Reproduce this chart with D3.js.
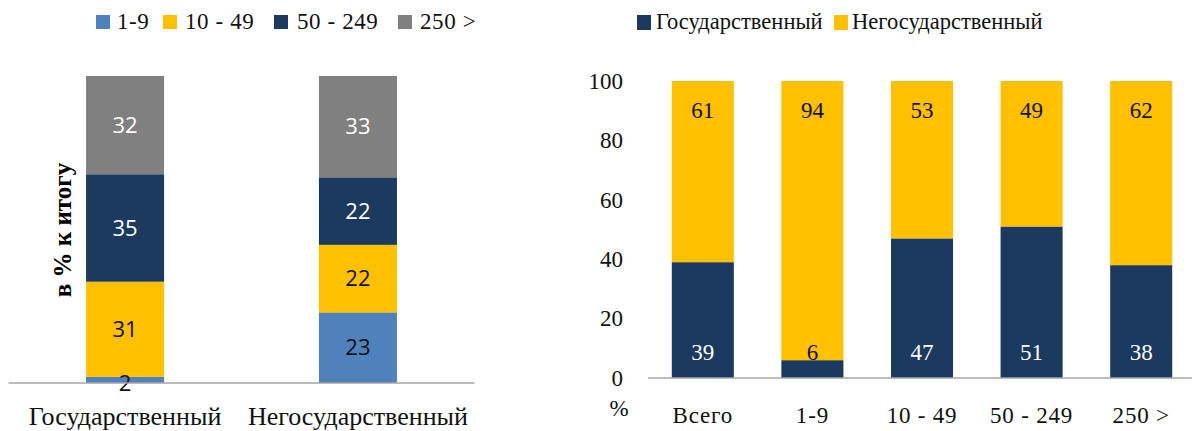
<!DOCTYPE html>
<html>
<head>
<meta charset="utf-8">
<title>Распределение по размеру</title>
<style>
  body { margin: 0; background: #fff; }
  svg { display: block; }
</style>
</head>
<body>
<svg id="chart" width="1192" height="431"></svg>
<script src="https://d3js.org/d3.v7.min.js"></script>
<script>
// левая диаграмма: структура по размеру предприятия
const ownership = ["Государственный", "Негосударственный"];
const sizeGroups = ["1-9", "10 - 49", "50 - 249", "250 >"];
const size_1_9 = [2, 23];
const size_10_49 = [31, 22];
const size_50_249 = [35, 22];
const size_250 = [32, 33];
const sizeColors = ["#4F81BD", "#FFC000", "#1C3A5F", "#808080"];
const sizeTextColors = ["#111", "#111", "#fff", "#fff"];

// правая диаграмма: доля форм собственности по группам
const groups = ["Всего", "1-9", "10 - 49", "50 - 249", "250 >"];
const stateShare = [39, 6, 47, 51, 38];
const privateShare = [61, 94, 53, 49, 62];
const yTicks = [0, 20, 40, 60, 80, 100];
const ownColors = ["#1C3A5F", "#FFC000"];

const SERIF = '"Liberation Serif", "Times New Roman", serif';
const SANS = '"Open Sans", "Noto Sans", sans-serif';
const svg = d3.select("#chart");
const axisColor = "#A6A6A6";

// ---------- левая ----------
const leftRows = ownership.map((o, i) => ({
  key: o, "1-9": size_1_9[i], "10 - 49": size_10_49[i],
  "50 - 249": size_50_249[i], "250 >": size_250[i]
}));
const leftSeries = d3.stack().keys(sizeGroups)(leftRows);

const xL = d3.scaleBand().domain(ownership).range([8.5, 474.5])
  .paddingInner(0.665).paddingOuter(0.333);
const yL = d3.scaleLinear().domain([0, 100]).range([383, 76]);

const gL = svg.append("g");
gL.selectAll("g.layer").data(leftSeries).enter().append("g")
  .attr("fill", (d, i) => sizeColors[i])
  .selectAll("rect").data(d => d).enter().append("rect")
  .attr("x", d => xL(d.data.key))
  .attr("width", xL.bandwidth())
  .attr("y", d => yL(d[1]))
  .attr("height", d => yL(d[0]) - yL(d[1]));

leftSeries.forEach((s, i) => {
  gL.selectAll(null).data(s).enter().append("text")
    .attr("x", d => xL(d.data.key) + xL.bandwidth() / 2)
    .attr("y", d => (yL(d[0]) + yL(d[1])) / 2 + (d[1] - d[0] < 5 ? 3 : 0))
    .attr("dy", "0.35em")
    .attr("text-anchor", "middle")
    .style("font-family", SANS)
    .style("font-size", "22px")
    .attr("fill", sizeTextColors[i])
    .text(d => d[1] - d[0]);
});

gL.append("line")
  .attr("x1", 8.5).attr("x2", 474.5)
  .attr("y1", yL(0)).attr("y2", yL(0))
  .attr("stroke", axisColor).attr("stroke-width", 1.5);

gL.selectAll("text.cat").data(ownership).enter().append("text")
  .attr("class", "cat")
  .attr("x", d => xL(d) + xL.bandwidth() / 2)
  .attr("y", 425)
  .attr("text-anchor", "middle")
  .style("font-family", SERIF)
  .style("font-size", "26px")
  .attr("fill", "#111")
  .text(d => d);

gL.append("text")
  .attr("transform", "translate(71,230) rotate(-90)")
  .attr("text-anchor", "middle")
  .style("font-family", SERIF)
  .style("font-size", "25px")
  .style("font-weight", "bold")
  .attr("fill", "#000")
  .text("в % к итогу");

// легенда слева
const legL = [[96, 117], [163, 185], [274, 297], [398, 420]];
sizeGroups.forEach((g, i) => {
  gL.append("rect").attr("x", legL[i][0]).attr("y", 15).attr("width", 14).attr("height", 14)
    .attr("fill", sizeColors[i]);
  gL.append("text")
    .attr("x", legL[i][1]).attr("y", 29)
    .style("font-family", SERIF).style("font-size", "23px")
    .style("letter-spacing", "0.6px")
    .attr("fill", "#111")
    .text(g);
});

// ---------- правая ----------
const rightRows = groups.map((g, i) => ({ key: g, state: stateShare[i], priv: privateShare[i] }));
const rightSeries = d3.stack().keys(["state", "priv"])(rightRows);

const xR = d3.scaleBand().domain(groups).range([648, 1196])
  .paddingInner(0.434).paddingOuter(0.217);
const yR = d3.scaleLinear().domain([0, 100]).range([378, 81]);

const gR = svg.append("g");
gR.selectAll("g.layer").data(rightSeries).enter().append("g")
  .attr("fill", (d, i) => ownColors[i])
  .selectAll("rect").data(d => d).enter().append("rect")
  .attr("x", d => xR(d.data.key))
  .attr("width", xR.bandwidth())
  .attr("y", d => yR(d[1]))
  .attr("height", d => yR(d[0]) - yR(d[1]));

// подписи: государственный — у основания, негосударственный — у верха
gR.selectAll("text.st").data(rightSeries[0]).enter().append("text")
  .attr("class", "st")
  .attr("x", d => xR(d.data.key) + xR.bandwidth() / 2)
  .attr("y", yR(0) - 26)
  .attr("dy", "0.35em")
  .attr("text-anchor", "middle")
  .style("font-family", SERIF).style("font-size", "23px")
  .attr("fill", d => (d[1] - d[0]) < 10 ? "#111" : "#fff")
  .text(d => d[1] - d[0]);

gR.selectAll("text.pr").data(rightSeries[1]).enter().append("text")
  .attr("class", "pr")
  .attr("x", d => xR(d.data.key) + xR.bandwidth() / 2)
  .attr("y", d => yR(d[1]) + 29)
  .attr("dy", "0.35em")
  .attr("text-anchor", "middle")
  .style("font-family", SERIF).style("font-size", "23px")
  .attr("fill", "#111")
  .text(d => d[1] - d[0]);

const yAxis = d3.axisLeft(yR).tickValues(yTicks).tickSize(0).tickPadding(0);
const ya = gR.append("g").attr("transform", "translate(623,0)").call(yAxis);
ya.select(".domain").remove();
ya.selectAll("text").style("font-family", SERIF).style("font-size", "23px").attr("fill", "#111");

gR.append("line")
  .attr("x1", 648).attr("x2", 1192)
  .attr("y1", yR(0)).attr("y2", yR(0))
  .attr("stroke", axisColor).attr("stroke-width", 1.5);

const xAxis = d3.axisBottom(xR).tickSize(0).tickPadding(29);
const xa = gR.append("g").attr("transform", `translate(0,${yR(0)})`).call(xAxis);
xa.select(".domain").remove();
xa.selectAll("text").style("font-family", SERIF).style("font-size", "23px")
  .style("letter-spacing", "0.8px").attr("fill", "#111");

gR.append("text")
  .attr("x", 619).attr("y", 416).attr("text-anchor", "middle")
  .style("font-family", SERIF).style("font-size", "23px")
  .attr("fill", "#111").text("%");

// легенда справа
const legR = [[637, 656], [834, 852]];
ownership.forEach((o, i) => {
  gR.append("rect").attr("x", legR[i][0]).attr("y", 15).attr("width", 14).attr("height", 15)
    .attr("fill", ownColors[i]);
  gR.append("text")
    .attr("x", legR[i][1]).attr("y", 29)
    .style("font-family", SERIF).style("font-size", "22.5px")
    .attr("fill", "#111")
    .text(o);
});
</script>
</body>
</html>
